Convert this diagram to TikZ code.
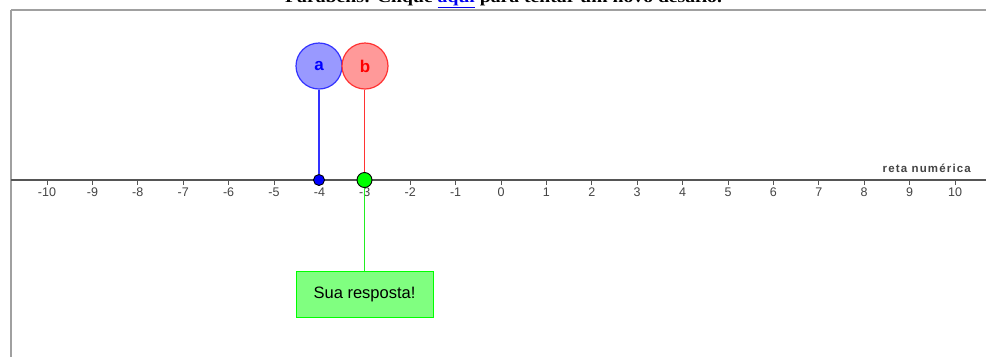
\documentclass[tikz,border=0pt]{standalone}
\usepackage{fontspec}
\setmainfont{Liberation Serif}
\setsansfont{Liberation Sans}
\usetikzlibrary{calc}
\definecolor{framegray}{HTML}{A0A0A0}
\definecolor{axisgray}{HTML}{555555}
\definecolor{labelgray}{HTML}{444444}
\definecolor{afill}{HTML}{9999FF}
\definecolor{aline}{HTML}{3333FF}
\definecolor{bfill}{HTML}{FF9999}
\definecolor{bline}{HTML}{FF3333}
\definecolor{gpt}{HTML}{00FF00}
\definecolor{gbox}{HTML}{80FF80}
\definecolor{gline}{HTML}{22EE22}
\definecolor{linkblue}{HTML}{0000EE}
\begin{document}
\begin{tikzpicture}[x=1pt,y=-1pt,
  ticklabel/.style={font=\sffamily\fontsize{12.5}{13}\selectfont, text=labelgray, inner sep=0pt},
  slider/.style={circle, minimum size=46pt, inner sep=0pt, line width=1.2pt, font=\sffamily\bfseries\fontsize{17}{17}\selectfont},
  dotpt/.style={circle, draw=black, line width=0.9pt, inner sep=0pt},
  answerbox/.style={draw=gpt, fill=gbox, line width=1pt, minimum width=137pt, minimum height=46pt, inner sep=0pt, font=\sffamily\fontsize{16.5}{17}\selectfont}]
  \useasboundingbox (0,0) rectangle (986,357);
  \fill[white] (0,0) rectangle (986,357);

  % heading line (its upper part lies above the page)
  \node[anchor=base west, inner sep=0pt, font=\bfseries\fontsize{16}{16}\selectfont] (head) at (285,2)
    {\scalebox{1.23}[1]{Parabéns! Clique \textcolor{linkblue}{\underline{aqui}} para tentar um novo desafio.}};

  % applet frame
  \draw[framegray, line width=2pt] (11,9.5) -- (986,9.5);
  \draw[framegray, line width=1.5pt] (11,9.5) -- (11,357);

  % number line
  \draw[axisgray, line width=1.2pt] (11,180) -- (986,180);
  \foreach \n in {-10,...,10} {
    \draw[axisgray, line width=1pt] ({501+45.4*\n},180) -- ({501+45.4*\n},185);
    \node[ticklabel] at ({501+45.4*\n},192.5) {\ifnum\n<0 -\the\numexpr-\n\relax\else\n\fi};
  }
  \node[anchor=base east, inner sep=0pt, text=labelgray,
        font=\sffamily\bfseries\fontsize{11.5}{12}\selectfont\addfontfeature{LetterSpace=10}] (axname) at (971,172)
    {reta numérica};

  % points on the line
  \node[dotpt, fill=blue, minimum size=11pt] (pa) at (319,180) {};
  \node[slider, draw=aline, fill=afill, text=blue] (ca) at (319,66) {a};
  \node[slider, draw=bline, fill=bfill, text=red] (cb) at (365,66) {b};
  \node[answerbox] (ans) at (364.5,294) {Sua resposta!};
  \coordinate (pbpos) at (364.5,180);

  % connectors
  \draw[aline, line width=1.2pt] (ca.south) -- (pa.north);
  \draw[bline, line width=1.2pt] (cb.south -| pbpos) -- (pbpos);
  \draw[gline, line width=1.2pt] (pbpos) -- (ans.north);
  \node[dotpt, fill=gpt, minimum size=15pt] (pb) at (pbpos) {};
\end{tikzpicture}
\end{document}
